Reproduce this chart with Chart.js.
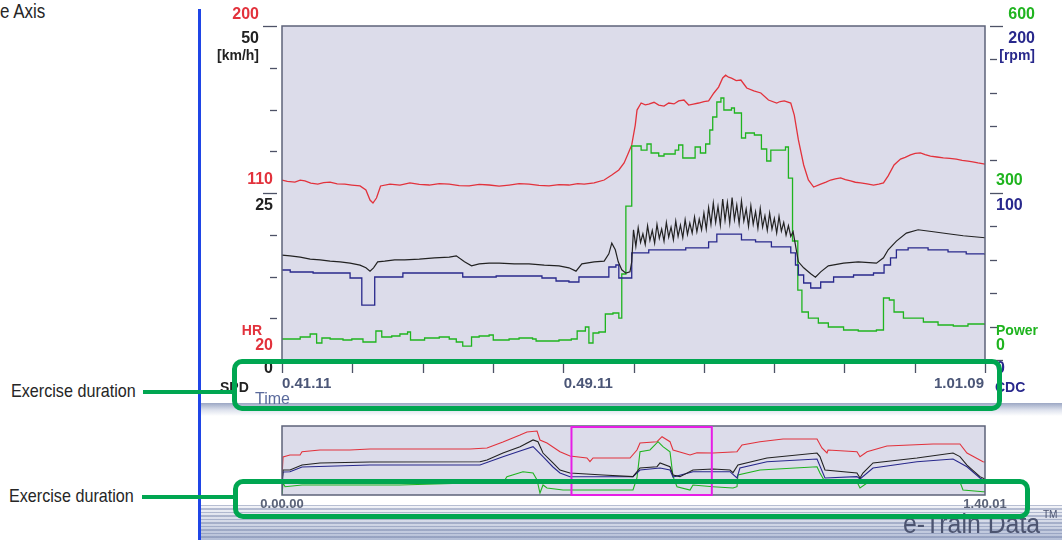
<!DOCTYPE html>
<html>
<head>
<meta charset="utf-8">
<script src="https://cdn.jsdelivr.net/npm/chart.js@4.4.1/dist/chart.umd.min.js"></script>
<style>
  body { margin: 0; width: 1062px; height: 540px; position: relative; overflow: hidden; background: #fff; font-family: "Liberation Sans", Arial, sans-serif; }
  .abs { position: absolute; }
  .note { font-family: "Liberation Sans", Arial, sans-serif; font-size: 19px; color: #262626; line-height: 22px; white-space: nowrap; transform: scaleX(0.85); transform-origin: 0 0; }
  .gbox { border: 5px solid #00a651; border-radius: 10px; box-sizing: border-box; }
  .gline { background: #00a651; height: 4px; }
  canvas { display: block; }
</style>
</head>
<body>
<div class="abs note" style="left:0;top:0;font-size:20px">e Axis</div>
<div class="abs" style="left:201px;top:403px;width:861px;height:13px;background:linear-gradient(#9ba7c4,#dfe3ee 55%,#fff)"></div>
<div class="abs" style="left:201px;top:505px;width:861px;height:35px;background:repeating-linear-gradient(to bottom, rgba(110,125,165,0.45) 0 1.5px, rgba(255,255,255,0) 1.5px 3.5px), linear-gradient(#f3f4f8, #b3bdd6)"></div>
<div class="abs" style="left:198px;top:9px;width:3px;height:531px;background:#1f45e6"></div>

<div class="abs" style="left:200px;top:0"><canvas id="main" width="862" height="420"></canvas></div>
<div class="abs" style="left:200px;top:415px"><canvas id="overview" width="862" height="110"></canvas></div>

<div class="abs" style="left:903px;top:509px;font-size:27px;color:#4c5470;white-space:nowrap;transform:scaleX(0.92);transform-origin:0 0">e-Train Data<span style="font-size:11px;vertical-align:top;position:relative;top:-1px;margin-left:3px">TM</span></div>

<div class="abs note" style="left:11px;top:380px">Exercise duration</div>
<div class="abs gline" style="left:143px;top:390px;width:92px"></div>
<div class="abs gbox" style="left:232px;top:359px;width:770px;height:52px"></div>

<div class="abs note" style="left:9px;top:485px">Exercise duration</div>
<div class="abs gline" style="left:142px;top:495px;width:94px"></div>
<div class="abs gbox" style="left:233px;top:479px;width:797px;height:40px"></div>

<script>
  // ---- main view (0.41.11 -> 1.01.09), time in seconds ----
  const viewStart = 2471;
  const viewEnd = 3669;
  const timeLabels = [2471, 2951, 3669];

  const hrTicks = [20, 110, 200];
  const spdTicks = [0, 25, 50];
  const powTicks = [0, 300, 600];
  const cadTicks = [0, 100, 200];

  const hrTime = [2471,2480,2493,2502,2510,2520,2532,2542,2553,2565,2578,2590,2604,2614,2621,2626,2632,2639,2655,2672,2689,2705,2722,2739,2756,2773,2790,2807,2824,2841,2858,2875,2892,2909,2926,2943,2960,2975,2986,3003,3020,3033,3045,3054,3062,3067,3073,3076,3083,3090,3096,3105,3113,3122,3130,3139,3147,3156,3164,3172,3181,3190,3198,3207,3215,3222,3227,3232,3237,3245,3253,3263,3275,3287,3300,3314,3320,3327,3338,3344,3351,3360,3368,3377,3389,3398,3406,3414,3423,3431,3440,3448,3457,3468,3479,3488,3496,3504,3514,3525,3533,3542,3550,3559,3567,3576,3587,3598,3609,3620,3630,3640,3648,3657,3669];
  const hrValues = [117.0,116.3,115.9,116.9,116.5,115.3,114.8,115.6,115.9,114.9,114.8,114.3,113.8,111.6,106.2,104.6,107.3,113.8,114.8,114.2,115.4,114.6,114.3,115.1,114.8,114.0,113.8,114.6,114.3,113.7,114.3,115.0,114.8,114.1,113.8,114.5,114.3,115.0,114.8,115.4,117.0,119.7,122.4,126.2,132.1,135.9,146.6,154.7,158.5,157.5,157.9,158.9,157.4,156.8,158.5,158.0,159.6,160.1,157.4,157.9,158.5,159.3,159.6,163.9,167.1,172.0,173.5,172.4,171.9,170.6,170.9,166.6,165.0,163.9,160.1,158.5,159.3,159.6,158.5,152.0,138.6,125.1,117.0,113.2,114.8,115.9,117.0,117.6,118.1,117.2,116.5,115.8,115.4,114.9,114.3,114.8,115.4,119.2,125.1,128.3,129.2,130.5,131.3,131.6,130.7,129.9,129.4,128.9,128.7,128.3,127.6,127.2,126.8,126.2,125.6];

  const spdTime = [2471,2485,2502,2519,2536,2553,2570,2587,2604,2614,2621,2627,2634,2646,2663,2680,2705,2731,2756,2768,2782,2794,2807,2824,2841,2867,2892,2918,2943,2960,2972,2982,3003,3020,3028,3033,3039,3044,3050,3057,3064,3067,
    3070,3074,3078,3082,3086,3090,3094,3098,3102,3106,3110,3114,3118,3122,3126,3130,3134,3138,3142,3146,3150,3154,3158,3162,3166,3170,3174,3178,3182,3186,3190,3194,3198,3202,3206,3210,3214,3218,3222,3226,3230,3234,3238,3242,3246,3250,3254,3258,3262,3266,3270,3274,3278,3282,3286,3290,3294,3298,3302,3306,3310,3314,3318,3322,3326,3330,3334,3338,3342,
    3346,3351,3360,3372,3380,3389,3402,3428,3453,3484,3496,3504,3518,3535,3555,3581,3606,3632,3669];
  const spdValues = [15.7,15.6,15.4,15.1,15.0,14.8,14.7,14.5,14.2,13.8,13.3,13.8,14.7,14.8,15.0,15.0,15.1,15.3,15.4,15.6,14.7,14.1,14.4,14.5,14.5,14.4,14.4,14.2,14.1,13.8,13.3,14.4,14.7,14.8,15.9,17.5,16.5,14.7,13.5,13.0,13.2,14.7,
    19.5,17.0,19.8,17.6,18.9,17.3,20.1,17.9,19.4,17.5,20.3,18.2,19.6,17.8,20.6,18.4,19.9,18.0,20.8,18.5,20.2,18.3,21.0,18.8,20.5,19.0,21.4,19.2,21.1,19.5,22.0,19.6,22.8,20.3,23.5,20.6,23.0,20.2,24.1,20.9,23.6,20.5,24.3,21.0,23.2,20.4,23.8,20.8,22.6,20.0,23.1,20.3,22.2,19.7,22.7,19.9,21.6,19.4,22.0,19.6,21.2,19.0,21.5,19.3,20.6,18.7,20.1,18.5,19.2,
    17.2,14.7,13.8,12.9,12.4,13.2,14.1,14.5,14.7,14.5,15.3,16.5,17.8,19.0,19.5,19.2,18.9,18.6,18.3];

  const cadTime = [2471,2485,2524,2587,2607,2629,2677,2779,2836,2914,2938,2960,2977,3028,3040,3045,3067,3096,3159,3198,3212,3254,3278,3305,3338,3346,3351,3360,3372,3389,3411,3445,3479,3497,3508,3518,3538,3572,3606,3637,3669];
  const cadValues = [53.9,52.7,52.1,49.1,32.9,49.7,52.1,49.7,50.3,49.1,47.3,46.7,49.7,55.7,56.9,49.1,64.1,65.9,67.1,70.7,75.4,71.9,70.7,67.7,64.1,56.9,50.9,46.1,43.1,46.7,49.7,50.9,52.1,56.9,61.1,65.9,67.1,65.9,64.7,63.5,62.9];

  const powTime = [2471,2502,2519,2530,2539,2553,2575,2590,2609,2631,2641,2658,2672,2685,2690,2714,2739,2756,2768,2779,2794,2807,2824,2831,2858,2875,2898,2904,2943,2964,2974,2988,2994,3001,3011,3022,3035,3045,3050,3057,3067,3083,3093,3100,3113,3122,3141,3147,3154,3175,3184,3193,3200,3205,3212,3219,3224,3237,3242,3254,3261,3276,3288,3297,3304,3329,3334,3341,3350,3357,3368,3385,3402,3428,3453,3484,3496,3506,3514,3530,3547,3564,3589,3615,3640,3669];
  const powValues = [37.7,41.3,46.7,30.5,39.5,37.7,35.9,37.7,32.3,52.1,41.3,43.1,46.7,50.3,35.9,39.5,41.3,37.7,32.3,25.1,41.3,43.1,44.9,35.9,37.7,39.5,37.7,34.1,35.9,37.7,52.1,59.3,30.5,48.5,50.3,82.6,84.4,75.4,154.5,276.6,384.4,377.2,388.0,371.9,366.5,370.1,377.2,386.2,362.9,382.6,371.9,388.0,413.2,436.5,463.5,470.7,449.1,452.7,443.7,398.8,407.8,404.2,379.0,357.5,377.2,382.6,326.9,213.8,125.7,86.2,75.4,66.5,59.3,53.9,52.1,53.9,111.4,107.8,86.2,75.4,75.4,68.3,62.9,61.1,64.7,62.9];

  // ---- whole exercise overview (0.00.00 -> 1.40.01) ----
  const totalEnd = 6001;
  const ovLabels = [0, 6001];

  const ovHrTime = [0,9,68,154,171,324,580,751,1178,1605,1750,1886,2032,2091,2177,2202,2262,2373,2458,2603,2629,2655,2971,3030,3056,3201,3244,3312,3338,3483,3542,3679,3884,3927,4080,4277,4567,4609,4652,4661,4908,4934,4994,5164,5557,5787,5847,5984,6001];
  const ovHr = [67.0,119.1,124.4,124.4,133.0,137.4,137.4,140.0,140.0,140.0,142.6,158.3,176.5,184.4,187.0,163.5,155.7,133.0,121.8,116.5,106.9,116.5,116.5,137.4,155.7,159.1,172.1,159.1,137.4,124.4,130.4,129.6,133.0,150.5,159.1,166.1,166.1,142.6,129.6,137.4,133.0,119.9,133.0,147.8,153.1,153.1,129.6,106.9,106.1];

  const ovSpdTime = [0,9,68,171,324,751,1690,1750,1886,2032,2143,2185,2228,2313,2373,2458,2740,2996,3056,3201,3227,3312,3338,3397,3508,3679,3824,3850,3892,4140,4567,4592,4635,4908,4934,4959,5045,5420,5728,5787,5847,5958,6001];
  const ovSpd = [8.7,18.1,18.1,21.7,23.2,23.9,24.1,25.4,30.4,35.0,39.9,38.6,30.4,23.2,18.1,15.9,14.5,13.3,19.6,20.5,23.2,20.5,14.5,13.3,18.1,18.8,18.1,16.2,21.7,26.8,30.4,27.8,18.1,15.9,12.3,15.9,23.2,26.8,30.4,27.8,21.7,13.3,11.6];

  const ovCadTime = [0,9,68,171,751,1690,1886,2032,2143,2228,2313,2373,2458,2996,3056,3227,3312,3338,3508,3824,3884,3909,4140,4567,4635,4908,4934,5045,5420,5728,5847,5958,6001];
  const ovCad = [14.5,66.7,67.5,81.2,87.0,87.0,111.0,127.6,140.0,111.0,81.2,63.8,53.1,53.1,72.5,78.3,72.5,52.2,67.5,67.5,49.3,78.3,96.5,104.4,49.3,53.1,46.4,78.3,96.5,104.4,82.0,49.3,40.6];

  const ovPowTime = [0,9,26,171,1007,1605,1886,1920,2057,2143,2177,2202,2228,2262,2399,2996,3030,3056,3141,3210,3252,3312,3338,3372,3483,3508,3679,3850,3884,3892,4080,4567,4592,4635,4908,4934,4994,5787,5813,5984,6001];
  const ovPow = [0,104.4,72.2,87.0,87.0,104.4,104.4,159.1,202.6,191.3,130.4,17.4,87.0,60.9,43.5,43.5,147.8,376.5,391.3,463.5,420.0,376.5,159.1,72.2,43.5,87.0,72.2,60.9,72.2,173.9,217.4,246.1,191.3,115.7,115.7,60.9,104.4,115.7,43.5,28.7,28.7];

  const RED = "#e2323c";
  const GREEN = "#1fb41f";
  const NAVY = "#28288c";
  const BLACK = "#222222";
  const PLOT_BG = "#dcdcea";
  const FRAME = "#5d6379";
  const TICK = "#4d5266";
  const TIME_TXT = "#4b5677";
  const NUM_FONT = 'bold 16px "Liberation Sans", Arial, sans-serif';
  const WORD_FONT = 'bold 14px "Liberation Sans", Arial, sans-serif';

  const zip = (xs, ys) => xs.slice(0, ys.length).map((x, i) => ({ x, y: ys[i] }));

  const fmt = (t) => {
    const h = Math.floor(t / 3600);
    const m = Math.floor((t % 3600) / 60);
    const s = t % 60;
    return `${h}.${String(m).padStart(2, "0")}.${String(s).padStart(2, "0")}`;
  };

  function text(ctx, str, x, y, color, font, align) {
    ctx.fillStyle = color;
    ctx.font = font;
    ctx.textAlign = align || "left";
    ctx.textBaseline = "middle";
    ctx.fillText(str, x, y);
  }

  function seg(ctx, x1, y1, x2, y2) {
    ctx.beginPath();
    ctx.moveTo(x1, y1);
    ctx.lineTo(x2, y2);
    ctx.stroke();
  }

  const plotBackground = {
    id: "plotBackground",
    beforeDatasetsDraw(chart) {
      const { ctx, chartArea: a } = chart;
      ctx.save();
      ctx.fillStyle = PLOT_BG;
      ctx.fillRect(a.left, a.top, a.width, a.height);
      ctx.restore();
    }
  };

  const mainAxes = {
    id: "mainAxes",
    afterDatasetsDraw(chart) {
      const { ctx, chartArea: a, scales: s } = chart;
      ctx.save();
      ctx.strokeStyle = FRAME;
      ctx.lineWidth = 1.5;
      ctx.strokeRect(a.left, a.top, a.width, a.height);

      ctx.strokeStyle = TICK;
      ctx.lineWidth = 1.3;
      const hrStep = (hrTicks[2] - hrTicks[0]) / 8;
      for (let k = 0; k <= 8; k++) {
        const y = Math.round(s.hr.getPixelForValue(hrTicks[0] + k * hrStep)) + 0.5;
        seg(ctx, a.left - (k % 4 === 0 ? 19 : 12), y, a.left - 5, y);
      }
      const powStep = (powTicks[2] - powTicks[0]) / 10;
      for (let k = 0; k <= 10; k++) {
        const y = Math.round(s.pow.getPixelForValue(powTicks[0] + k * powStep)) + 0.5;
        seg(ctx, a.right + 5, y, a.right + (k % 5 === 0 ? 18 : 12), y);
      }
      const xStep = (viewEnd - viewStart) / 10;
      for (let k = 0; k <= 10; k++) {
        const x = Math.round(s.x.getPixelForValue(viewStart + k * xStep)) + 0.5;
        seg(ctx, x, a.bottom, x, a.bottom + 13);
      }

      // left side: HR (red) and SPD (black)
      const yTop = s.hr.getPixelForValue(hrTicks[2]);
      const yMid = s.hr.getPixelForValue(hrTicks[1]);
      const yBot = s.hr.getPixelForValue(hrTicks[0]);
      text(ctx, String(hrTicks[2]), a.left - 23, yTop - 11, RED, NUM_FONT, "right");
      text(ctx, String(spdTicks[2]), a.left - 23, yTop + 13, BLACK, NUM_FONT, "right");
      text(ctx, "[km/h]", a.left - 23, yTop + 30, BLACK, WORD_FONT, "right");
      text(ctx, String(hrTicks[1]), a.left - 9, yMid - 13, RED, NUM_FONT, "right");
      text(ctx, String(spdTicks[1]), a.left - 9, yMid + 13, BLACK, NUM_FONT, "right");
      text(ctx, "HR", a.left - 20, yBot - 29, RED, WORD_FONT, "right");
      text(ctx, String(hrTicks[0]), a.left - 9, yBot - 14, RED, NUM_FONT, "right");
      text(ctx, String(spdTicks[0]), a.left - 9, s.spd.getPixelForValue(spdTicks[0]) + 9, BLACK, NUM_FONT, "right");
      text(ctx, "SPD", a.left - 62, yBot + 28, BLACK, WORD_FONT, "left");
      text(ctx, "Time", a.left - 27, yBot + 40, "#5a6a9c", '16px "Liberation Sans", Arial, sans-serif', "left");

      // right side: Power (green) and CDC (navy)
      const rTop = s.pow.getPixelForValue(powTicks[2]);
      const rMid = s.pow.getPixelForValue(powTicks[1]);
      const rBot = s.pow.getPixelForValue(powTicks[0]);
      text(ctx, String(powTicks[2]), a.right + 50, rTop - 11, GREEN, NUM_FONT, "right");
      text(ctx, String(cadTicks[2]), a.right + 50, rTop + 13, NAVY, NUM_FONT, "right");
      text(ctx, "[rpm]", a.right + 50, rTop + 30, NAVY, WORD_FONT, "right");
      text(ctx, String(powTicks[1]), a.right + 11, rMid - 12, GREEN, NUM_FONT, "left");
      text(ctx, String(cadTicks[1]), a.right + 11, rMid + 13, NAVY, NUM_FONT, "left");
      text(ctx, "Power", a.right + 11, rBot - 29, GREEN, WORD_FONT, "left");
      text(ctx, String(powTicks[0]), a.right + 11, rBot - 14, GREEN, NUM_FONT, "left");
      text(ctx, String(cadTicks[0]), a.right + 11, s.cad.getPixelForValue(cadTicks[0]) + 9, NAVY, NUM_FONT, "left");
      text(ctx, "CDC", a.right + 10, rBot + 28, NAVY, WORD_FONT, "left");

      // time labels
      timeLabels.forEach((t, i) => {
        const x = s.x.getPixelForValue(t);
        const last = i === timeLabels.length - 1;
        text(ctx, fmt(t), last ? x - 1 : x, a.bottom + 24, TIME_TXT, 'bold 15px "Liberation Sans", Arial, sans-serif', last ? "right" : "left");
      });
      ctx.restore();
    }
  };

  const overviewAxes = {
    id: "overviewAxes",
    afterDatasetsDraw(chart) {
      const { ctx, chartArea: a, scales: s } = chart;
      ctx.save();
      ctx.strokeStyle = FRAME;
      ctx.lineWidth = 1.5;
      ctx.strokeRect(a.left, a.top, a.width, a.height);

      const x1 = s.x.getPixelForValue(viewStart);
      const x2 = s.x.getPixelForValue(viewEnd);
      ctx.strokeStyle = "#e61ee6";
      ctx.lineWidth = 2;
      ctx.strokeRect(x1, a.top + 1, x2 - x1, a.height - 1);

      ovLabels.forEach((t) => {
        text(ctx, fmt(t), s.x.getPixelForValue(t), a.bottom + 9, "#5a6277", 'bold 13px "Liberation Sans", Arial, sans-serif', "center");
      });
      ctx.restore();
    }
  };

  const line = (data, color, axis, extra) => Object.assign({
    data, borderColor: color, yAxisID: axis, borderWidth: 1.3, pointRadius: 0, tension: 0, fill: false
  }, extra || {});

  const baseOptions = (pad, xMin, xMax) => ({
    responsive: false,
    animation: false,
    events: [],
    layout: { padding: pad },
    plugins: { legend: { display: false }, tooltip: { enabled: false } },
    scales: {
      x: { type: "linear", min: xMin, max: xMax, display: false },
      hr: { min: hrTicks[0], max: hrTicks[2], display: false },
      spd: { min: spdTicks[0], max: spdTicks[2], display: false },
      cad: { min: cadTicks[0], max: cadTicks[2], display: false },
      pow: { min: powTicks[0], max: powTicks[2], display: false }
    }
  });

  new Chart(document.getElementById("main"), {
    type: "line",
    data: {
      datasets: [
        line(zip(spdTime, spdValues), BLACK, "spd", { borderWidth: 1.2 }),
        line(zip(cadTime, cadValues), NAVY, "cad", { stepped: true }),
        line(zip(powTime, powValues), GREEN, "pow", { stepped: true }),
        line(zip(hrTime, hrValues), RED, "hr")
      ]
    },
    options: baseOptions({ left: 82, top: 26, right: 77, bottom: 60 }, viewStart, viewEnd),
    plugins: [plotBackground, mainAxes]
  });

  new Chart(document.getElementById("overview"), {
    type: "line",
    data: {
      datasets: [
        line(zip(ovSpdTime, ovSpd), BLACK, "spd", { borderWidth: 1.1 }),
        line(zip(ovCadTime, ovCad), NAVY, "cad", { borderWidth: 1.1 }),
        line(zip(ovPowTime, ovPow), GREEN, "pow", { borderWidth: 1.1 }),
        line(zip(ovHrTime, ovHr), RED, "hr", { borderWidth: 1.1 })
      ]
    },
    options: baseOptions({ left: 82, top: 11, right: 77, bottom: 30 }, 0, totalEnd),
    plugins: [plotBackground, overviewAxes]
  });
</script>
</body>
</html>
